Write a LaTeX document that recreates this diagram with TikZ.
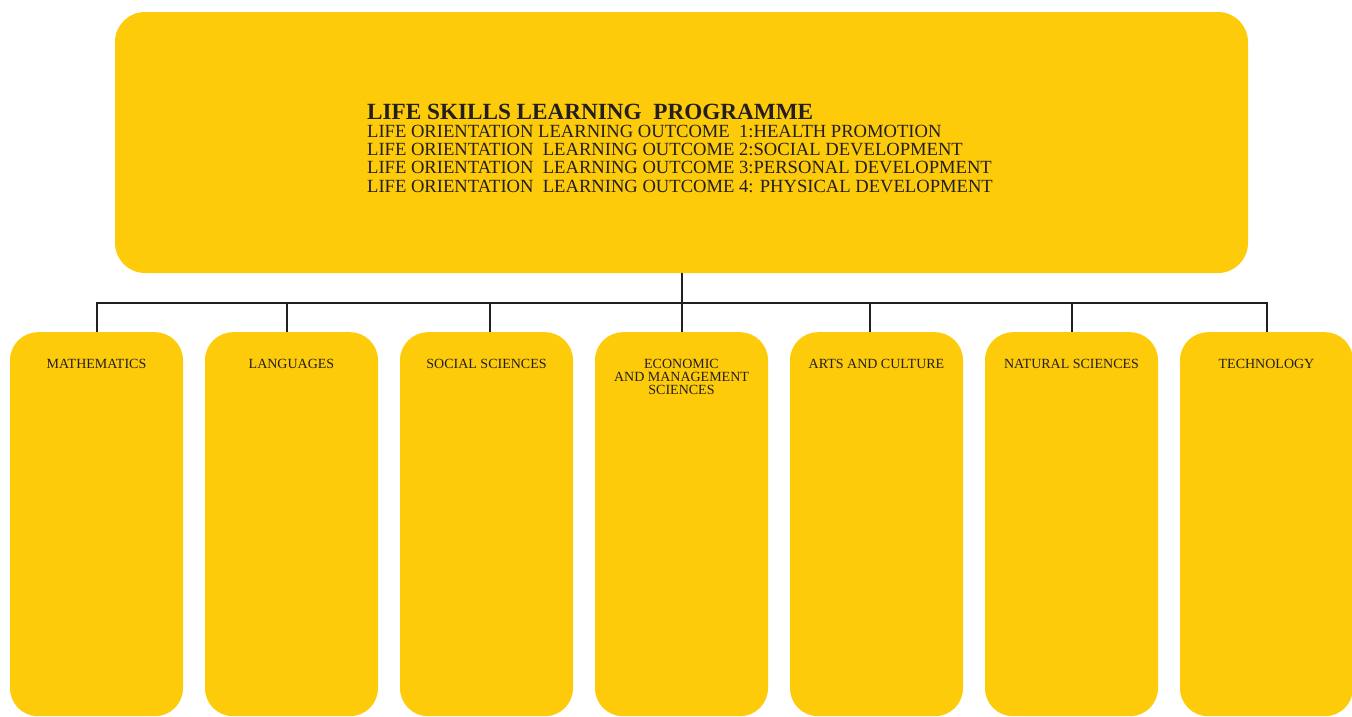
\documentclass[tikz,border=0pt]{standalone}
\usepackage{fontspec}
\setmainfont{Liberation Serif}
\definecolor{lsyellow}{RGB}{254,203,11}
\definecolor{lsline}{RGB}{35,31,32}

\begin{document}
\begin{tikzpicture}[x=1pt, y=-1pt,
	mainbox/.style={fill=lsyellow, rounded corners=30pt, minimum width=1133pt,
		minimum height=261pt, inner sep=0pt},
	maintext/.style={align=left, anchor=north, inner sep=0pt, text=lsline,
		font=\fontsize{18.6}{18.3}\selectfont},
	subjbox/.style={fill=lsyellow, rounded corners=28pt, minimum width=173pt,
		minimum height=384pt, inner sep=0pt, anchor=north},
	subjtext/.style={align=center, anchor=north, inner sep=0pt, text=lsline,
		font=\fontsize{14}{13.2}\selectfont},
	link/.style={draw=lsline, line width=2pt}]
	\useasboundingbox (0,0) rectangle (1352,716);

	% programme box
	\node[mainbox] (prog) at (681.5,142.5) {};
	\node[maintext] (progtext) at (680,103.5) {%
		{\fontsize{23.2}{20}\selectfont\bfseries LIFE SKILLS LEARNING\ \ PROGRAMME}\\
		LIFE ORIENTATION LEARNING OUTCOME\ \ 1:HEALTH PROMOTION\\
		LIFE ORIENTATION\ \ LEARNING OUTCOME 2:SOCIAL DEVELOPMENT\\
		LIFE ORIENTATION\ \ LEARNING OUTCOME 3:PERSONAL DEVELOPMENT\\
		LIFE ORIENTATION\ \ LEARNING OUTCOME 4: PHYSICAL DEVELOPMENT};

	% learning areas
	\foreach \n [count=\i from 0] in {math,lang,soc,ems,arts,nat,tech}
		\node[subjbox] (\n) at (96.5+195*\i,332) {};

	\node[subjtext] (mathlbl) at ([yshift=-27pt]math.north) {MATHEMATICS};
	\node[subjtext] (langlbl) at ([yshift=-27pt]lang.north) {LANGUAGES};
	\node[subjtext] (soclbl) at ([yshift=-27pt]soc.north) {SOCIAL SCIENCES};
	\node[subjtext] (emslbl) at ([yshift=-27pt]ems.north) {ECONOMIC\\AND MANAGEMENT\\SCIENCES};
	\node[subjtext] (artslbl) at ([yshift=-27pt]arts.north) {ARTS AND CULTURE};
	\node[subjtext] (natlbl) at ([yshift=-27pt]nat.north) {NATURAL SCIENCES};
	\node[subjtext] (techlbl) at ([yshift=-27pt]tech.north) {TECHNOLOGY};

	% connectors
	\coordinate (bus) at (681.5,303);
	\draw[link] (prog.south) -- (bus);
	\foreach \n/\dx in {math/0, lang/-4.5, soc/3, ems/0, arts/-6.5, nat/0.5, tech/0}
		\draw[link] (bus) -| ([xshift=\dx pt]\n.north);
\end{tikzpicture}
\end{document}
